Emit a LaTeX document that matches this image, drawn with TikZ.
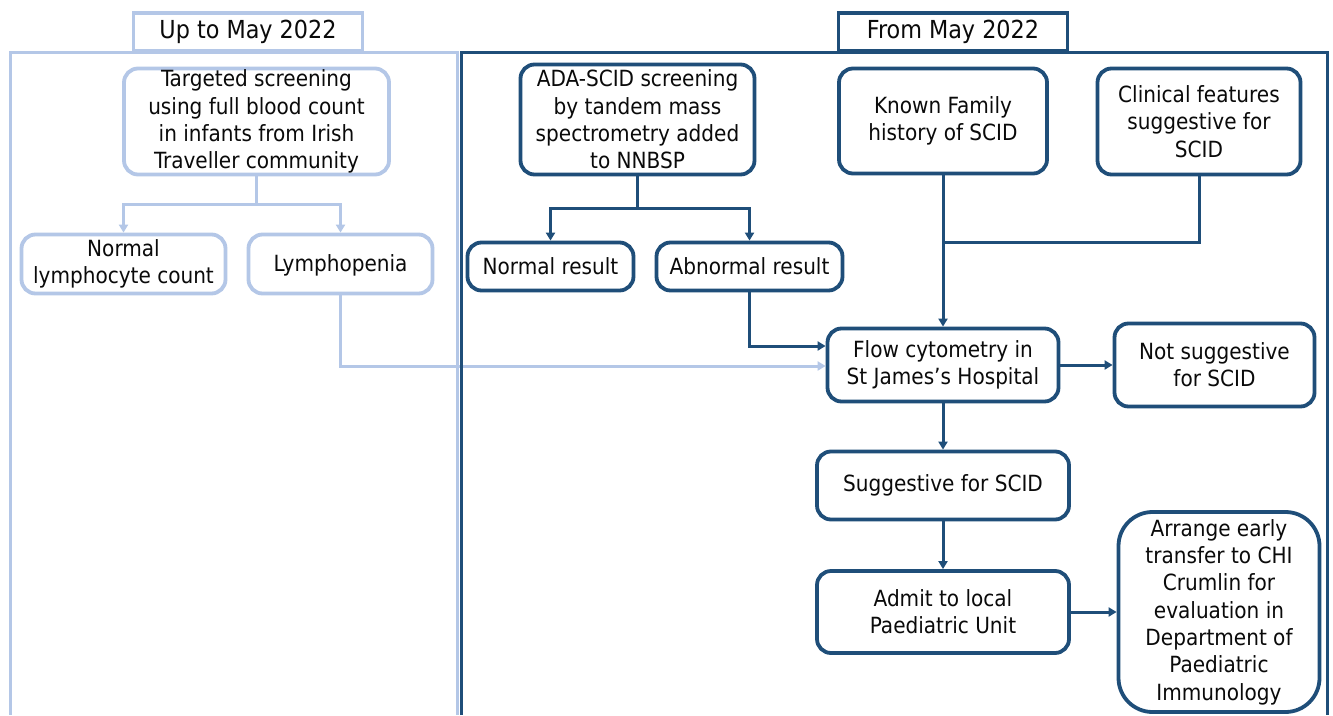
\documentclass[tikz,border=0pt]{standalone}
\usepackage{fontspec}
\setmainfont{DejaVu Sans Condensed}
\usetikzlibrary{arrows.meta}
\definecolor{darkblue}{HTML}{1F4E79}
\definecolor{lightblue}{HTML}{B4C7E7}
\definecolor{ink}{HTML}{0A0A0A}
\newcommand\bodyfont{\fontsize{22.3}{27.3}\selectfont}
\newcommand\tabfont{\fontsize{24.8}{28}\selectfont}
\tikzset{
  dbox/.style={draw=darkblue, line width=3.8pt, rounded corners=14pt, fill=white,
    align=center, text=ink, font=\bodyfont, inner sep=0pt},
  lbox/.style={dbox, draw=lightblue},
  tabbox/.style={draw=#1, line width=3.2pt, fill=white, text=ink, font=\tabfont,
    inner sep=0pt, minimum width=229pt, minimum height=38pt},
  dline/.style={draw=darkblue, line width=3pt},
  lline/.style={draw=lightblue, line width=3pt},
  darr/.style={dline, -{Triangle[length=8pt,width=9pt]}},
  larr/.style={lline, -{Triangle[length=8pt,width=9pt]}},
}
\begin{document}
\begin{tikzpicture}[x=1pt,y=-1pt]
\useasboundingbox (0,0) rectangle (1333,715);
\fill[white] (0,0) rectangle (1333,715);

% panel outlines
\draw[lline] (10,715) -- (10,52) -- (457,52) -- (457,715);
\node[tabbox=lightblue] (uptab) at (248,32) {Up to May 2022};

% left panel: targeted screening
\node[lbox, minimum width=265pt, minimum height=106pt] (tgt) at (256.5,121.5)
  {Targeted screening\\using full blood count\\in infants from Irish\\Traveller community};
\node[lbox, minimum width=204pt, minimum height=59pt] (nlc) at (123.5,264)
  {Normal\\lymphocyte count};
\node[lbox, minimum width=184pt, minimum height=59pt, text depth=2pt] (lym) at (340.5,264)
  {Lymphopenia};

% right panel nodes
\node[dbox, minimum width=234pt, minimum height=110pt] (ada) at (637.5,119.5)
  {ADA-SCID screening\\by tandem mass\\spectrometry added\\to NNBSP};
\node[dbox, minimum width=166pt, minimum height=48pt] (nres) at (550.5,266.5)
  {Normal result};
\node[dbox, minimum width=186pt, minimum height=48pt] (abn) at (749.5,266.5)
  {Abnormal result};
\node[dbox, minimum width=208pt, minimum height=105pt] (kfh) at (943,121)
  {Known Family\\history of SCID};
\node[dbox, minimum width=203pt, minimum height=106pt] (cli) at (1199,121.5)
  {Clinical features\\suggestive for\\SCID};
\node[dbox, minimum width=231pt, minimum height=73pt] (flow) at (943,365)
  {Flow cytometry in\\St James’s Hospital};
\node[dbox, minimum width=200pt, minimum height=83pt] (nots) at (1214.5,365)
  {Not suggestive\\for SCID};
\node[dbox, minimum width=252pt, minimum height=68pt] (sugg) at (943,485.5)
  {Suggestive for SCID};
\node[dbox, minimum width=252pt, minimum height=82pt] (admit) at (943,612)
  {Admit to local\\Paediatric Unit};
\node[dbox, rounded corners=34pt, minimum width=201pt, minimum height=200pt] (arr) at (1219,612)
  {Arrange early\\transfer to CHI\\Crumlin for\\evaluation in\\Department of\\Paediatric\\Immunology};

% left panel connectors
\draw[larr] (tgt.south) -- ++(0,28) -| (nlc.north);
\draw[larr] (tgt.south) -- ++(0,28) -| (lym.north);
\draw[larr] (lym.south) |- ([yshift=-1pt]flow.west);

% right panel outline drawn over the crossing light connector
\draw[dline] (461,715) -- (461,52) -- (1327,52) -- (1327,715);
\node[tabbox=darkblue] (fromtab) at (953,32) {From May 2022};

% right panel connectors
\draw[darr] (ada.south) -- ++(0,32) -| (nres.north);
\draw[darr] (ada.south) -- ++(0,32) -| (abn.north);
\draw[darr] (abn.south) |- ([yshift=19pt]flow.west);
\coordinate (join) at (943,242);
\draw[dline] (cli.south) |- (join);
\draw[darr] (kfh.south) -- (flow.north);
\draw[darr] (flow.east) -- (nots.west);
\draw[darr] (flow.south) -- (sugg.north);
\draw[darr] (sugg.south) -- (admit.north);
\draw[darr] (admit.east) -- (arr.west);
\end{tikzpicture}
\end{document}
